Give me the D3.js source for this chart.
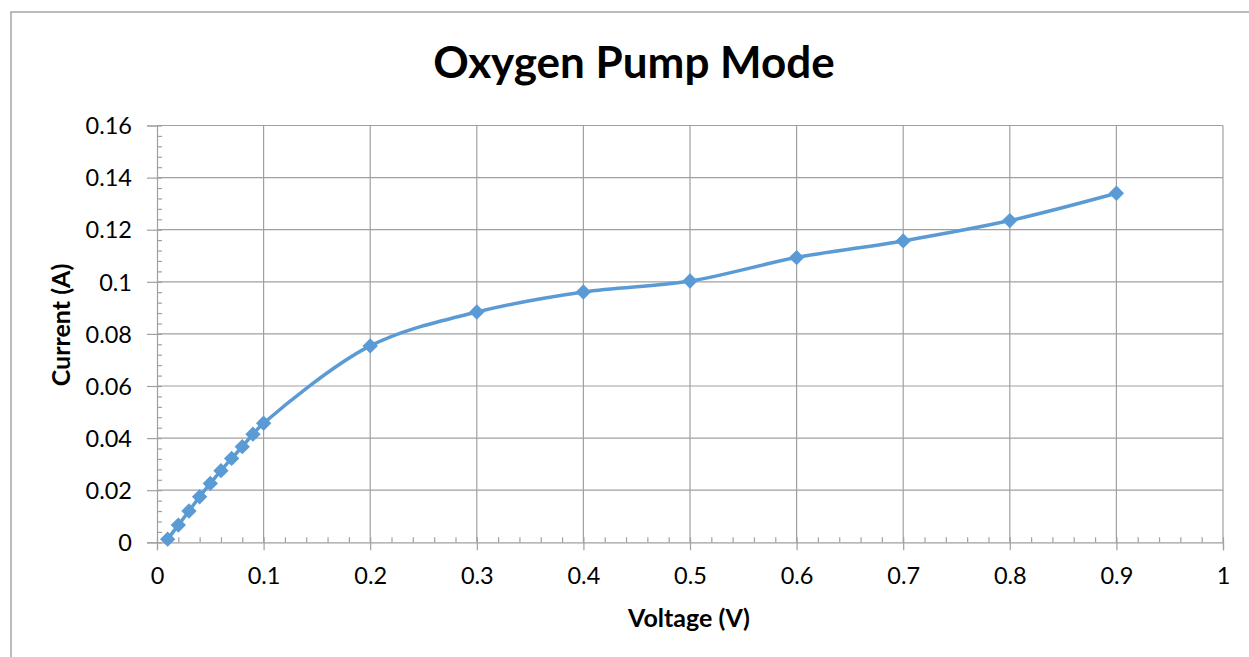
<!DOCTYPE html>
<html>
<head>
<meta charset="utf-8">
<script src="https://cdn.jsdelivr.net/npm/d3@7"></script>
<style>
  body { margin: 0; background: #fff; }
  svg text { font-family: Lato, "Open Sans", sans-serif; fill: #000; }
</style>
</head>
<body>
<svg id="chart" width="1249" height="657"></svg>
<script>
// voltage (V) and current (A)
var voltage = [0.01, 0.02, 0.03, 0.04, 0.05, 0.06, 0.07, 0.08, 0.09, 0.1,
               0.2, 0.3, 0.4, 0.5, 0.6, 0.7, 0.8, 0.9];
var current = [0.0012, 0.0066, 0.0120, 0.0175, 0.0226, 0.0275, 0.0322, 0.0367, 0.0415, 0.0457,
               0.0754, 0.0884, 0.0961, 0.1003, 0.1093, 0.1157, 0.1235, 0.1340];
var xTicks = [0, 0.1, 0.2, 0.3, 0.4, 0.5, 0.6, 0.7, 0.8, 0.9, 1];
var yTicks = [0, 0.02, 0.04, 0.06, 0.08, 0.1, 0.12, 0.14, 0.16];

var svg = d3.select('#chart');
var margin = {left: 157, right: 1223, top: 125.5, bottom: 542.3};

// outer frame (runs off the right/bottom edge)
svg.append('rect')
  .attr('x', 11).attr('y', 12)
  .attr('width', 1260).attr('height', 680)
  .attr('fill', 'none').attr('stroke', '#a6a6a6').attr('stroke-width', 1.5);

var x = d3.scaleLinear().domain([0, 1]).range([margin.left, margin.right]);
var y = d3.scaleLinear().domain([0, 0.16]).range([margin.bottom, margin.top]);

var minorX = d3.range(0, 1.0001, 0.02);
var minorY = d3.range(0, 0.16001, 0.004);

// grid
var grid = svg.append('g').attr('stroke', '#a0a0a0').attr('stroke-width', 1.2);
grid.selectAll('.vg').data(xTicks.slice(1)).enter().append('line')
  .attr('x1', function(d){ return x(d); }).attr('x2', function(d){ return x(d); })
  .attr('y1', margin.top).attr('y2', margin.bottom);
grid.selectAll('.hg').data(yTicks.slice(1)).enter().append('line')
  .attr('x1', margin.left).attr('x2', margin.right)
  .attr('y1', function(d){ return y(d); }).attr('y2', function(d){ return y(d); });

// x axis
var xAxis = svg.append('g')
  .attr('transform', 'translate(0,' + margin.bottom + ')')
  .call(d3.axisBottom(x).tickValues(xTicks).tickSize(8).tickPadding(17)
    .tickFormat(function(d){ return d3.format('')(+d.toFixed(1)); }));
svg.append('g')
  .attr('transform', 'translate(0,' + margin.bottom + ')')
  .call(d3.axisTop(x).tickValues(minorX).tickSize(5).tickFormat(''))
  .call(function(g){ g.select('.domain').remove(); });

// y axis
var yAxis = svg.append('g')
  .attr('transform', 'translate(' + margin.left + ',0)')
  .call(d3.axisLeft(y).tickValues(yTicks).tickSize(10).tickPadding(15)
    .tickFormat(function(d){ return d3.format('')(+d.toFixed(2)); }));
svg.append('g')
  .attr('transform', 'translate(' + margin.left + ',0)')
  .call(d3.axisRight(y).tickValues(minorY).tickSize(5).tickFormat(''))
  .call(function(g){ g.select('.domain').remove(); });

svg.selectAll('.tick line, .domain').attr('stroke', '#a0a0a0').attr('stroke-width', 1.2);
xAxis.selectAll('text').style('font-size', '23.5px').attr('fill', '#000');
yAxis.selectAll('text').style('font-size', '23.5px').attr('fill', '#000').attr('dy', '0.35em');

// line
var pts = voltage.map(function(v, i){ return [v, current[i]]; });
var line = d3.line()
  .curve(d3.curveCatmullRom.alpha(0.5))
  .x(function(d){ return x(d[0]); })
  .y(function(d){ return y(d[1]); });

svg.append('path')
  .datum(pts)
  .attr('d', line)
  .attr('fill', 'none')
  .attr('stroke', '#5b9bd5')
  .attr('stroke-width', 3.5);

svg.selectAll('.pt').data(pts).enter().append('path')
  .attr('class', 'pt')
  .attr('transform', function(d){ return 'translate(' + x(d[0]) + ',' + y(d[1]) + ')'; })
  .attr('d', d3.symbol().type(d3.symbolDiamond2).size(150))
  .attr('fill', '#5b9bd5');

// titles
svg.append('text')
  .attr('x', 634).attr('y', 78)
  .attr('text-anchor', 'middle')
  .style('font-size', '44px').style('font-weight', 'bold')
  .text('Oxygen Pump Mode');

svg.append('text')
  .attr('x', 689).attr('y', 627)
  .attr('text-anchor', 'middle')
  .style('font-size', '25px').style('font-weight', 'bold')
  .text('Voltage (V)');

svg.append('text')
  .attr('transform', 'translate(70,325) rotate(-90)')
  .attr('text-anchor', 'middle')
  .style('font-size', '25px').style('font-weight', 'bold')
  .text('Current (A)');
</script>
</body>
</html>
